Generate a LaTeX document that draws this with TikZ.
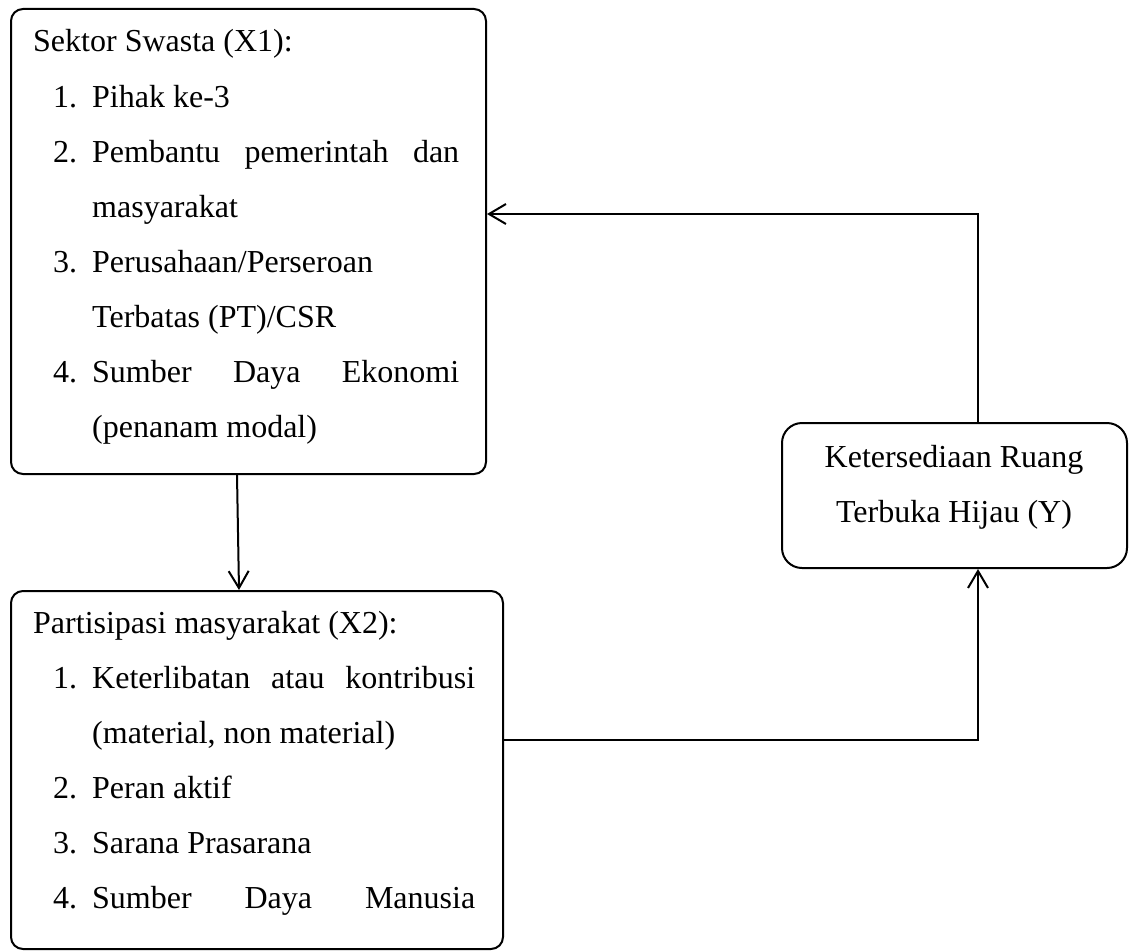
\documentclass[tikz,border=0pt]{standalone}
\usepackage{fontspec}
\setmainfont{Liberation Serif}
\usetikzlibrary{arrows.meta,calc}
\tikzset{
  box/.style={draw, line width=2pt, rounded corners=12pt, anchor=north west, inner sep=0pt},
  ybox/.style={box, rounded corners=20pt},
  txt/.style={anchor=base west, inner sep=0pt, font=\fontsize{32}{38}\selectfont},
  ctxt/.style={anchor=base, inner sep=0pt, font=\fontsize{32}{38}\selectfont},
  arr/.style={line width=2pt, -{Straight Barb[length=17pt,width=20pt,line width=2pt]}},
}
\begin{document}
\begin{tikzpicture}[x=1pt,y=-1pt]
\useasboundingbox (0,0) rectangle (1131,950);
% boxes
\node[box, minimum width=475pt, minimum height=465pt] (x1) at (10,8) {};
\node[box, minimum width=492pt, minimum height=358pt] (x2) at (10,590) {};
\node[ybox, minimum width=345pt, minimum height=145pt] (y) at (781,422) {};
% X1 text
\node[txt] (t10) at (33,52) {Sektor Swasta (X1):};
\node[txt] (n11) at (53,107) {1.};
\node[txt] (t11) at (92,107) {Pihak ke-3};
\node[txt] (n12) at (53,162) {2.};
\node[txt] (t12) at (92,162) {\hbox to 367pt{Pembantu\hfill pemerintah\hfill dan}};
\node[txt] (t12b) at (92,217) {masyarakat};
\node[txt] (n13) at (53,272) {3.};
\node[txt] (t13) at (92,272) {Perusahaan/Perseroan};
\node[txt] (t13b) at (92,327) {Terbatas (PT)/CSR};
\node[txt] (n14) at (53,382) {4.};
\node[txt] (t14) at (92,382) {\hbox to 367pt{Sumber\hfill Daya\hfill Ekonomi}};
\node[txt] (t14b) at (92,437) {(penanam modal)};
% X2 text
\node[txt] (t20) at (33,633) {Partisipasi masyarakat (X2):};
\node[txt] (n21) at (53,688) {1.};
\node[txt] (t21) at (92,688) {\hbox to 383pt{Keterlibatan\hfill atau\hfill kontribusi}};
\node[txt] (t21b) at (92,743) {(material, non material)};
\node[txt] (n22) at (53,798) {2.};
\node[txt] (t22) at (92,798) {Peran aktif};
\node[txt] (n23) at (53,853) {3.};
\node[txt] (t23) at (92,853) {Sarana Prasarana};
\node[txt] (n24) at (53,908) {4.};
\node[txt] (t24) at (92,908) {\hbox to 383pt{Sumber\hfill Daya\hfill Manusia}};
% Y text
\node[ctxt] (ty1) at (954,467) {Ketersediaan Ruang};
\node[ctxt] (ty2) at (954,522) {Terbuka Hijau (Y)};
% connectors
\coordinate (c1) at (978,214);
\coordinate (c2) at (978,740);
\draw[arr] ($(x1.south west)+(227,0)$) -- ($(x2.north west)+(229,0)$);
\draw[arr] ($(y.north west)+(197,0)$) |- (x1.east|-c1);
\draw[arr] (x2.east|-c2) -| ($(y.south west)+(197,0)$);
\end{tikzpicture}
\end{document}
